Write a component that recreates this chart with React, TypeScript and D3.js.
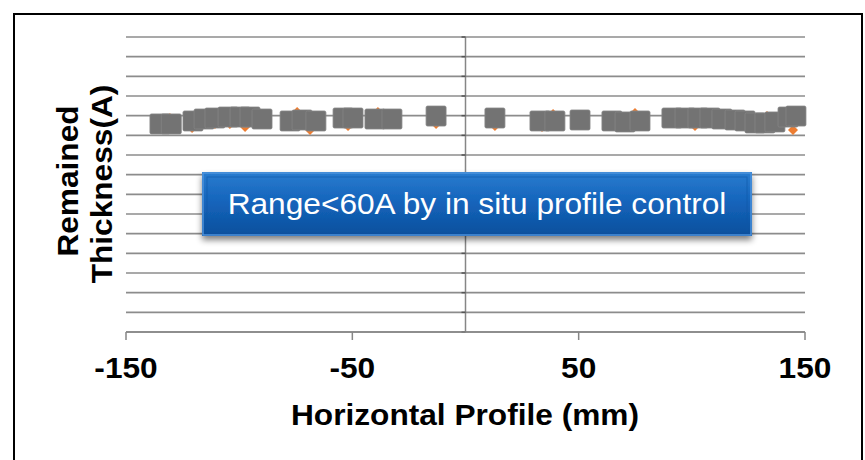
import React from "react";
import * as d3 from "d3";

const xTicks = [-150, -50, 50, 150];
const yGridValues = d3.range(0, 1501, 100);

const squareX = [-135, -130, -120.4, -115.5, -110.7, -104.9, -99.6, -95.2, -89.9, -77.5, -72.2, -66.1, -54.1, -49.7, -40, -32.5, -13, 13, 32.9, 39.5, 50.6, 64.7, 70.5, 77.1, 91.2, 97, 102.7, 108, 113.3, 119.1, 123.5, 127.9, 132.3, 136.7, 142.5, 146];
const squareY = [1058, 1058, 1073, 1083, 1088, 1093, 1093, 1093, 1083, 1073, 1078, 1073, 1088, 1088, 1083, 1083, 1098, 1088, 1073, 1073, 1078, 1073, 1068, 1073, 1088, 1088, 1088, 1088, 1083, 1078, 1073, 1063, 1063, 1068, 1093, 1098];

const diamondX = [-130.6, -120.8, -110.7, -107.1, -104.1, -97.4, -74.4, -68.7, -51.9, -38.7, -13, 13, 33.8, 38.7, 74.9, 101.4, 133.2, 144.7];
const diamondY = [1088, 1037, 1058, 1063, 1058, 1042, 1119, 1027, 1047, 1119, 1058, 1047, 1042, 1108, 1114, 1047, 1098, 1027];

const xTitle = "Horizontal Profile (mm)";
const yTitle = ["Remained", "Thickness(A)"];
const boxText = "Range<60A by in situ profile control";

export default function App() {
  const x = d3.scaleLinear().domain([-150, 150]).range([126, 805]);
  const y = d3.scaleLinear().domain([0, 1500]).range([332, 37]);
  const font = "Arial, 'Liberation Sans', Helvetica, sans-serif";
  const sq = 20;
  const dm = 5;
  const fs = 30;
  const sx = 1.055;
  return (
    <svg width={865} height={460} style={{ position: "absolute", left: 0, top: 0, background: "#fff" }} fontFamily={font}>
      <defs>
        <linearGradient id="boxg" x1="0" y1="0" x2="0" y2="1">
          <stop offset="0" stopColor="#2a7ccf" />
          <stop offset="0.45" stopColor="#1565bc" />
          <stop offset="1" stopColor="#0b4f9c" />
        </linearGradient>
        <filter id="sh" x="-10%" y="-30%" width="120%" height="170%">
          <feGaussianBlur in="SourceAlpha" stdDeviation="3" />
          <feOffset dx="0" dy="4" result="b" />
          <feComponentTransfer><feFuncA type="linear" slope="0.5" /></feComponentTransfer>
          <feMerge><feMergeNode /><feMergeNode in="SourceGraphic" /></feMerge>
        </filter>
      </defs>
      <rect x={14} y={14} width={848} height={480} fill="#fff" stroke="#000" strokeWidth={2} />
      {yGridValues.map((v) => (
        <line key={v} x1={x(-150)} x2={x(150)} y1={y(v)} y2={y(v)} stroke="#8c8c8c" strokeWidth={1.6} />
      ))}
      <line x1={x(0)} x2={x(0)} y1={y(1500)} y2={y(0)} stroke="#868686" strokeWidth={1.5} />
      {yGridValues.map((v) => (
        <line key={"yt" + v} x1={x(0) - 4} x2={x(0)} y1={y(v)} y2={y(v)} stroke="#555" strokeWidth={1.5} />
      ))}
      <line x1={x(-150)} x2={x(150)} y1={y(0)} y2={y(0)} stroke="#868686" strokeWidth={1.5} />
      {xTicks.map((t) => (
        <g key={t}>
          <line x1={x(t)} x2={x(t)} y1={y(0)} y2={y(0) + 8} stroke="#868686" strokeWidth={1.5} />
          <text transform={`translate(${x(t)},378) scale(${sx},1)`} textAnchor="middle" fontSize={fs} fontWeight="bold" fill="#000">{t}</text>
        </g>
      ))}
      {diamondX.map((v, i) => (
        <path key={"d" + i} d={`M${x(v)},${y(diamondY[i]) - dm}L${x(v) + dm},${y(diamondY[i])}L${x(v)},${y(diamondY[i]) + dm}L${x(v) - dm},${y(diamondY[i])}Z`} fill="#ed7d31" />
      ))}
      {squareX.map((v, i) => (
        <rect key={"s" + i} x={x(v) - sq / 2} y={y(squareY[i]) - sq / 2} width={sq} height={sq} rx={1.5} fill="#737373" stroke="#858585" strokeWidth={0.8} />
      ))}
      <g filter="url(#sh)">
        <rect x={202} y={172} width={550} height={64} fill="url(#boxg)" />
      </g>
      <rect x={203} y={173} width={548} height={62} fill="none" stroke="#4d93dc" strokeWidth={1.5} />
      <rect x={207} y={177} width={540} height={54} fill="none" stroke="#0d57a8" strokeWidth={1} opacity={0.6} />
      <text transform={`translate(477,214) scale(${sx},1)`} textAnchor="middle" fontSize={fs} fill="#fff">{boxText}</text>
      <text transform={`translate(465,425) scale(${sx},1)`} textAnchor="middle" fontSize={fs} fontWeight="bold" fill="#000">{xTitle}</text>
      <text transform={`translate(78,181) rotate(-90) scale(${sx},1)`} textAnchor="middle" fontSize={fs} fontWeight="bold" fill="#000">{yTitle[0]}</text>
      <text transform={`translate(112,184) rotate(-90) scale(${sx},1)`} textAnchor="middle" fontSize={fs} fontWeight="bold" fill="#000">{yTitle[1]}</text>
    </svg>
  );
}
